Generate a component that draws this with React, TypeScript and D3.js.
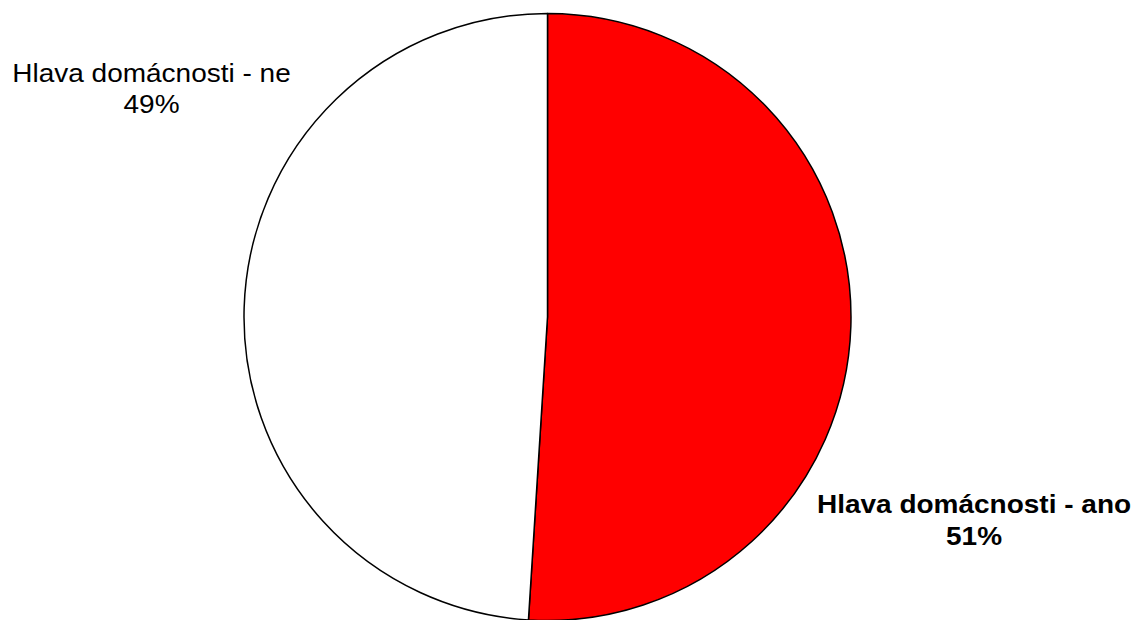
import React from "react";
import * as d3 from "d3";

const categories = ["Hlava domácnosti - ano", "Hlava domácnosti - ne"];
const values = [51, 49];
const labels = ["51%", "49%"];

export default function App() {
  const width = 1137;
  const height = 620;
  const cx = 547.5;
  const cy = 317;
  const r = 303.5;
  const pie = d3.pie<number>().sort(null).value((d) => d).startAngle(0).endAngle(2 * Math.PI);
  const arcs = pie(values);
  const arc = d3.arc<d3.PieArcDatum<number>>().innerRadius(0).outerRadius(r);
  const colors = ["#ff0000", "#ffffff"];
  const labelPos = [
    { x: 974, y1: 513, y2: 545, bold: true },
    { x: 151.5, y1: 82, y2: 113, bold: false },
  ];
  const sx = 1.12;
  return (
    <svg
      width={width}
      height={height}
      style={{ position: "absolute", left: 0, top: 0, background: "#fff" }}
    >
      <g transform={`translate(${cx},${cy})`}>
        {arcs.map((a, i) => (
          <path key={i} d={arc(a) || ""} fill={colors[i]} stroke="#000" strokeWidth={1.5} strokeLinejoin="round" />
        ))}
      </g>
      {categories.map((c, i) => (
        <g key={c} transform={`translate(${labelPos[i].x},0) scale(${sx},1)`}>
          <text
            textAnchor="middle"
            fontFamily="'Liberation Sans', Arial, sans-serif"
            fontSize={25}
            fontWeight={labelPos[i].bold ? "bold" : "normal"}
            fill="#000"
          >
            <tspan x={0} y={labelPos[i].y1}>{c}</tspan>
            <tspan x={0} y={labelPos[i].y2}>{labels[i]}</tspan>
          </text>
        </g>
      ))}
    </svg>
  );
}
